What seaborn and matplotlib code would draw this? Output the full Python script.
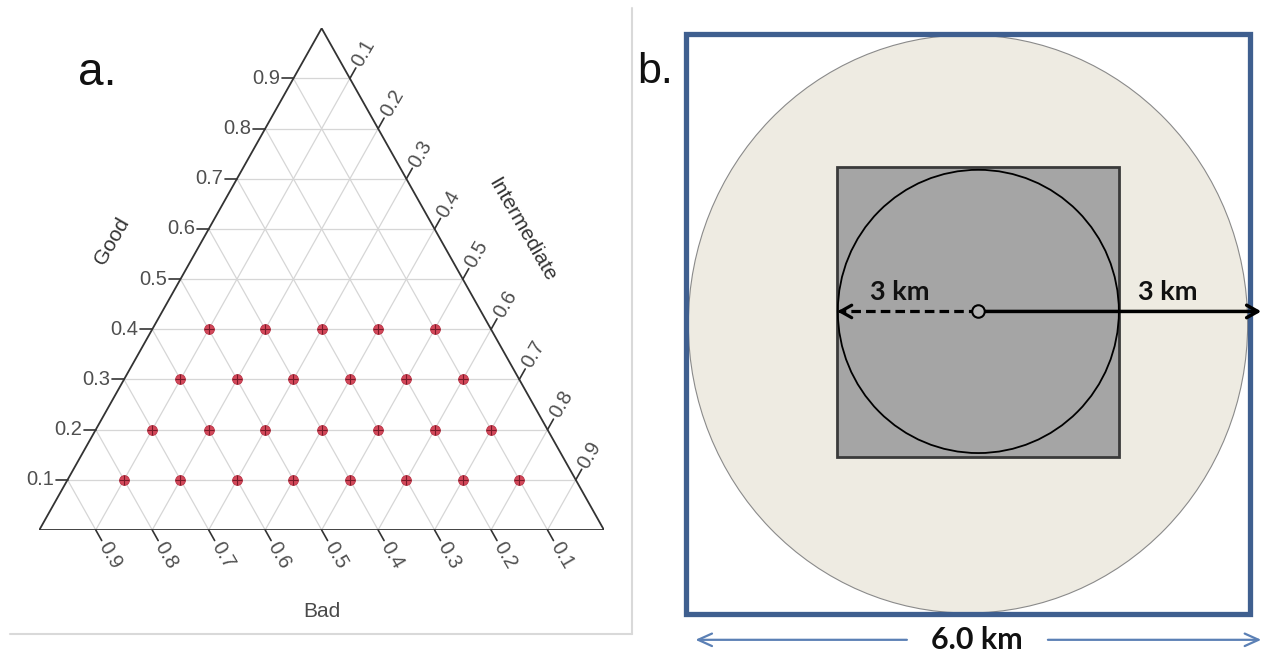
import numpy as np
import pandas as pd
import seaborn as sns
import matplotlib.pyplot as plt
from matplotlib.patches import Ellipse, Rectangle
from matplotlib.lines import Line2D

# Panel a: sampled compositions on the ternary grid
good = [0.1, 0.1, 0.1, 0.1, 0.1, 0.1, 0.1, 0.1,
        0.2, 0.2, 0.2, 0.2, 0.2, 0.2, 0.2,
        0.3, 0.3, 0.3, 0.3, 0.3, 0.3,
        0.4, 0.4, 0.4, 0.4, 0.4]
intermediate = [0.1, 0.2, 0.3, 0.4, 0.5, 0.6, 0.7, 0.8,
                0.1, 0.2, 0.3, 0.4, 0.5, 0.6, 0.7,
                0.1, 0.2, 0.3, 0.4, 0.5, 0.6,
                0.1, 0.2, 0.3, 0.4, 0.5]
bad = [0.8, 0.7, 0.6, 0.5, 0.4, 0.3, 0.2, 0.1,
       0.7, 0.6, 0.5, 0.4, 0.3, 0.2, 0.1,
       0.6, 0.5, 0.4, 0.3, 0.2, 0.1,
       0.5, 0.4, 0.3, 0.2, 0.1]
tick_vals = [0.1, 0.2, 0.3, 0.4, 0.5, 0.6, 0.7, 0.8, 0.9]
tick_labels = ['0.1', '0.2', '0.3', '0.4', '0.5', '0.6', '0.7', '0.8', '0.9']

# Panel b: schematic sizes (km)
extent_km = 6.0
buffer_diam = 5.95
plot_side = 3.0
plot_center = (3.11, 3.13)
radius_label = '3 km'
extent_label = '6.0 km'

sns.set_style('white')
plt.rcParams['font.family'] = ['Liberation Sans', 'DejaVu Sans']

fig = plt.figure(figsize=(12.62, 6.57), dpi=100)


def tern(g, i):
    # Good on top, Intermediate bottom-right, Bad bottom-left
    return i + g / 2.0, g


# ---------------- panel a ----------------
ax_a = fig.add_axes([39.3 / 1262, (657 - 530) / 657, 564.7 / 1262, 501.7 / 657])
ax_a.set_xlim(0, 1)
ax_a.set_ylim(0, 1)
ax_a.axis('off')

grid_kw = dict(color='#d6d6d6', lw=0.9, zorder=1)
for v in tick_vals:
    ax_a.plot([v / 2, 1 - v / 2], [v, v], **grid_kw)                 # constant Good
    ax_a.plot([v, v + (1 - v) / 2], [0, 1 - v], **grid_kw)           # constant Intermediate
    ax_a.plot([1 - v, (1 - v) / 2], [0, 1 - v], **grid_kw)           # constant Bad

ax_a.plot([0, 1, 0.5, 0], [0, 0, 1, 0], color='#333333', lw=1.3, zorder=3, solid_joinstyle='miter')

lab_kw = dict(fontsize=14.5, color='#4f4f4f')
t = 0.021
for v, lab in zip(tick_vals, tick_labels):
    # Good ticks (left edge)
    x0, y0 = tern(v, 0)
    ax_a.plot([x0, x0 - t], [y0, y0], color='#333333', lw=1.2, clip_on=False)
    ax_a.text(x0 - t - 0.003, y0, lab, ha='right', va='center', **lab_kw)
    # Intermediate ticks (right edge)
    x0, y0 = tern(1 - v, v)
    ax_a.plot([x0, x0 + 0.5 * t], [y0, y0 + t], color='#333333', lw=1.2, clip_on=False)
    ax_a.text(x0 + 0.5 * t + 0.002, y0 + t + 0.005, lab, rotation=60, rotation_mode='anchor',
              ha='left', va='center', **lab_kw)
    # Bad ticks (bottom edge)
    x0, y0 = tern(0, 1 - v)
    ax_a.plot([x0, x0 + 0.5 * t], [y0, y0 - t], color='#333333', lw=1.2, clip_on=False)
    ax_a.text(x0 + 0.5 * t + 0.002, y0 - t - 0.005, lab, rotation=-60, rotation_mode='anchor',
              ha='left', va='center', **lab_kw)

ax_a.text(0.129, 0.576, 'Good', rotation=60, ha='center', va='center', fontsize=15, color='#333333')
ax_a.text(0.855, 0.598, 'Intermediate', rotation=-60, ha='center', va='center', fontsize=15, color='#333333')
ax_a.text(0.5, -0.163, 'Bad', ha='center', va='center', fontsize=15, color='#4a4a4a')

df = pd.DataFrame({'Good': good, 'Intermediate': intermediate, 'Bad': bad})
df['x'], df['y'] = tern(df['Good'], df['Intermediate'])
sns.scatterplot(data=df, x='x', y='y', ax=ax_a, color='#d4485a', s=50,
                edgecolor='#b83446', linewidth=0.6, zorder=4, legend=False)
ax_a.scatter(df['x'], df['y'], marker='+', s=45, c='#7a1a28', linewidths=0.8, zorder=5)
ax_a.set_xlabel('')
ax_a.set_ylabel('')

# light frame around panel a
fig.add_artist(Line2D([632 / 1262, 632 / 1262], [1 - 8 / 657, 1 - 634 / 657],
                      color='#d9d9d9', lw=1.5, transform=fig.transFigure))
fig.add_artist(Line2D([10 / 1262, 632 / 1262], [1 - 634 / 657, 1 - 634 / 657],
                      color='#d9d9d9', lw=1.5, transform=fig.transFigure))
fig.text(78 / 1262, 1 - 85 / 657, 'a.', fontsize=33, color='#111111', ha='left', va='baseline')

# ---------------- panel b ----------------
ax_b = fig.add_axes([686 / 1262, (657 - 614) / 657, 564 / 1262, 580 / 657])
ax_b.set_xlim(0, extent_km)
ax_b.set_ylim(0, extent_km)
ax_b.axis('off')

cx, cy = plot_center
ax_b.add_patch(Ellipse((extent_km / 2, extent_km / 2), buffer_diam, buffer_diam + 0.03,
                       fc='#eeebe2', ec='#8a8a8a', lw=0.8, zorder=1))
ax_b.add_patch(Rectangle((cx - plot_side / 2, cy - plot_side / 2 - 0.01), plot_side, plot_side,
                         fc='#a5a5a5', ec='#3a3a3a', lw=2.0, zorder=2))
ax_b.add_patch(Ellipse((cx, cy), plot_side - 0.01, plot_side - 0.07,
                       fill=False, ec='black', lw=1.3, zorder=3))
ax_b.add_patch(Rectangle((0, 0), extent_km, extent_km, fill=False, ec='#3f5f8f', lw=3.8,
                         joinstyle='miter', clip_on=False, zorder=5))

# radius arrows
r = plot_side / 2
ax_b.plot([cx, cx - r + 0.03], [cy, cy], color='black', lw=2.3, ls=(0, (3, 1.6)), zorder=4)
ax_b.annotate('', xy=(cx - r, cy), xytext=(cx - r + 0.05, cy),
              arrowprops=dict(arrowstyle='->,head_length=0.8,head_width=0.45', lw=2.3,
                              color='black', shrinkA=0, shrinkB=0), zorder=4)
ax_b.annotate('', xy=(6.12, cy), xytext=(cx, cy), annotation_clip=False,
              arrowprops=dict(arrowstyle='->,head_length=0.8,head_width=0.45', lw=2.5,
                              color='black', shrinkA=0, shrinkB=0), zorder=6)
ax_b.plot(cx, cy, 'o', ms=9, mfc='#b5b5b5', mec='black', mew=1.5, zorder=7)
ax_b.text(2.27, 3.33, radius_label, ha='center', va='center', fontsize=19.5, fontweight='bold',
          family='Lato', color='#111111', zorder=8)
ax_b.text(5.12, 3.33, radius_label, ha='center', va='center', fontsize=19.5, fontweight='bold',
          family='Lato', color='#111111', zorder=8)

# extent dimension line
y_dim = -0.267
dim_kw = dict(arrowstyle='->,head_length=1.0,head_width=0.45', lw=1.6, color='#5b80b5',
              shrinkA=0, shrinkB=0)
ax_b.annotate('', xy=(0.10, y_dim), xytext=(2.35, y_dim), arrowprops=dim_kw, annotation_clip=False)
ax_b.annotate('', xy=(6.12, y_dim), xytext=(3.85, y_dim), arrowprops=dim_kw, annotation_clip=False)
ax_b.text(3.09, y_dim, extent_label, ha='center', va='center', fontsize=22, fontweight='bold',
          family='Lato', color='#111111')

fig.text(637 / 1262, 1 - 83 / 657, 'b.', fontsize=31, color='#111111', ha='left', va='baseline')

fig.savefig('out.png', dpi=100)
